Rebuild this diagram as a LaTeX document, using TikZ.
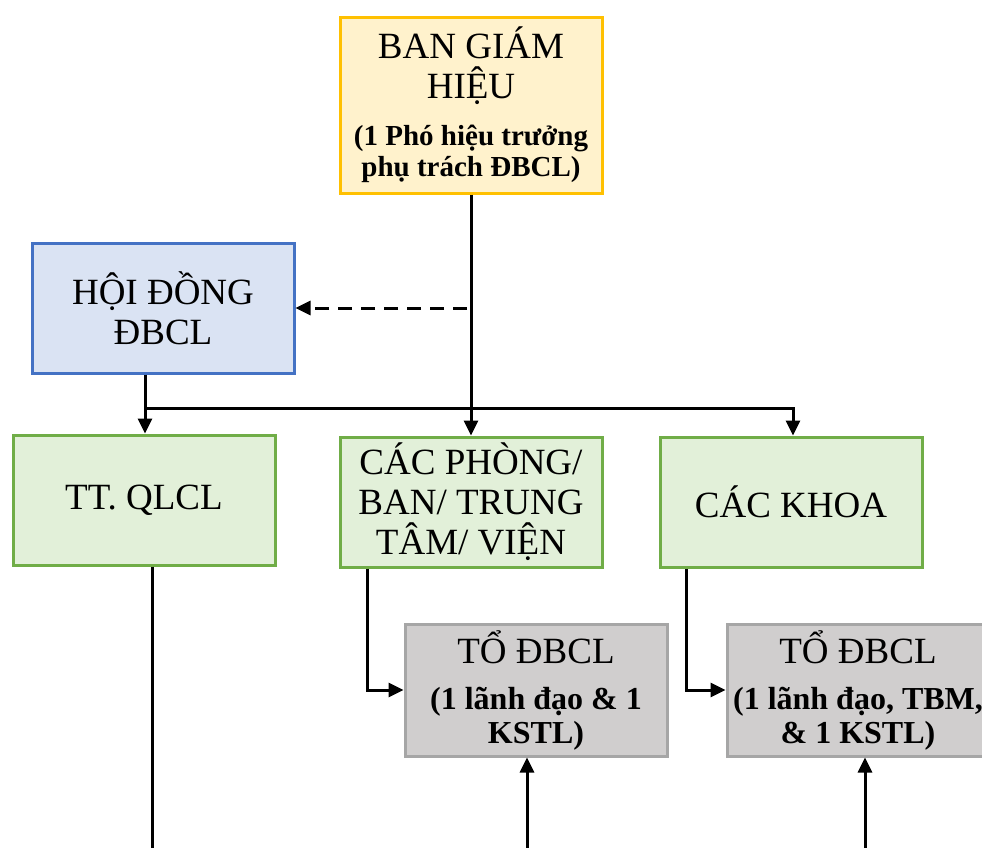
\documentclass[tikz,border=0pt]{standalone}
\usepackage{fontspec}
\setmainfont{Liberation Serif}
\usetikzlibrary{arrows.meta,calc,positioning}
\definecolor{goldline}{HTML}{FFC000}
\definecolor{goldfill}{HTML}{FFF2CC}
\definecolor{blueline}{HTML}{4472C4}
\definecolor{bluefill}{HTML}{DAE3F3}
\definecolor{greenline}{HTML}{70AD47}
\definecolor{greenfill}{HTML}{E2F0D9}
\definecolor{greyline}{HTML}{A6A6A6}
\definecolor{greyfill}{HTML}{D0CECE}
\newcommand{\notefont}{\bfseries\fontsize{29}{33}\selectfont}
\newcommand{\teamfont}{\bfseries\fontsize{32}{35}\selectfont}

\begin{document}
\begin{tikzpicture}[x=1pt,y=-1pt,>={Triangle[length=15pt,width=14pt]},
  font=\fontsize{37}{40}\selectfont,
  box/.style={line width=3pt,align=center,inner sep=2pt,minimum width=262pt,minimum height=130pt},
  boardbox/.style={box,draw=goldline,fill=goldfill,minimum height=176pt},
  councilbox/.style={box,draw=blueline,fill=bluefill},
  unitbox/.style={box,draw=greenline,fill=greenfill},
  teambox/.style={box,draw=greyline,fill=greyfill,minimum height=132pt},
  link/.style={->,line width=3pt},
  dashlink/.style={->,line width=3pt,dash pattern=on 14pt off 9pt}]

\useasboundingbox (0,0) rectangle (982,847);

% board and council
\node[boardbox] (bgh) at (471,105) {BAN GIÁM\\HIỆU\\[7pt]{\notefont (1 Phó hiệu trưởng}\\[-9pt]{\notefont phụ trách ĐBCL)}};
\node[councilbox] (hoidong) at (163,308) {HỘI ĐỒNG\\ĐBCL};

% units
\node[unitbox] (ttql) at (144,500) {TT. QLCL};
\node[unitbox] (phong) at (471,502) {CÁC PHÒNG/\\BAN/ TRUNG\\TÂM/ VIỆN};
\node[unitbox] (khoa) at (791,502) {CÁC KHOA};

% quality teams
\node[teambox] (to1) at (536,690) {TỔ ĐBCL\\[6pt]{\teamfont (1 lãnh đạo \& 1}\\[-6pt]{\teamfont KSTL)}};
\node[teambox] (to2) at (858,690) {TỔ ĐBCL\\[6pt]{\teamfont (1 lãnh đạo, TBM,}\\[-6pt]{\teamfont \& 1 KSTL)}};

% loose ends
\coordinate (dashstart) at (467,308);
\coordinate (bus) at (145,408);
\coordinate (ttqlend) at (152,860);
\coordinate (to1foot) at (527,860);
\coordinate (to2foot) at (865,860);

% connectors
\draw[link] (bgh) -- (phong);
\draw[dashlink] (dashstart) -- (hoidong);
\draw[link] (bus |- hoidong.south) -- (bus |- ttql.north);
\draw[link] (bus) -| ([xshift=2pt]khoa.north);
\draw[link] ([xshift=-104pt]phong.south) |- (to1);
\draw[link] ([xshift=-105pt]khoa.south) |- (to2);
\draw[line width=3pt] (ttqlend |- ttql.south) -- (ttqlend);
\draw[link] (to1foot) -- (to1foot |- to1.south);
\draw[link] (to2foot) -- (to2foot |- to2.south);

\end{tikzpicture}
\end{document}
